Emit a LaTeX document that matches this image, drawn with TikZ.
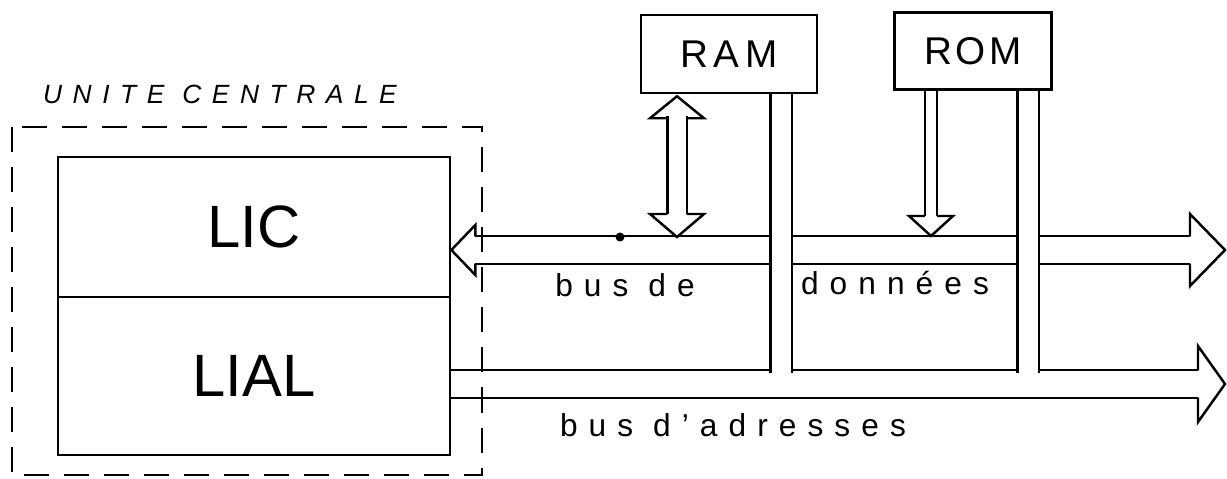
\documentclass[tikz,border=0pt]{standalone}
\usepackage{fontspec}
\setmainfont{Liberation Sans}
\usetikzlibrary{arrows.meta}
\usetikzlibrary{positioning}

\tikzset{
  unit/.style={draw, line width=0.7pt, inner sep=0pt},
  bus/.style={line width=0.7pt, double distance=0.25cm},
  link/.style={line width=0.7pt, double distance=0.19cm},
  tag/.style={font=\addfontfeatures{LetterSpace=35}\fontsize{9}{9}\selectfont},
  pics/head/.style n args={3}{code={
    \draw [line width=0.7pt, line join=miter] (-#3,#1) -- (-#3,#2) -- (0,0) -- (-#3,-#2) -- (-#3,-#1);
  }},
}

\begin{document}
\begin{tikzpicture}[x=0.01cm, y=-0.01cm]
  \useasboundingbox (0,0) rectangle (1227,479);
  \node [unit, minimum width=3.92cm, minimum height=1.40cm] (LIC) at (254,227) {\fontsize{17}{17}\selectfont LIC};
  \node [unit, minimum width=3.92cm, minimum height=1.58cm] (LIAL) at (254,376) {\fontsize{17}{17}\selectfont LIAL};
  \node [unit, minimum width=1.76cm, minimum height=0.78cm] (RAM) at (729,54) {\addfontfeatures{LetterSpace=15}\fontsize{11}{11}\selectfont RAM};
  \node [unit, minimum width=1.57cm, minimum height=0.77cm] (ROM) at (973,51) {\addfontfeatures{LetterSpace=10}\fontsize{11}{11}\selectfont ROM};
  \node [font=\itshape\addfontfeatures{LetterSpace=40}\fontsize{7.5}{7.5}\selectfont] (uc) at (220,94) {UNITE CENTRALE};

  \coordinate (dbR) at (1225,250);
  \coordinate (abR) at (1225,384);
  \coordinate (ramio) at (677,237);
  \coordinate (romin) at (931,236);
  \coordinate (ramab) at (781,373);
  \coordinate (romab) at (1028,373);

  \draw [bus, shorten <=0.24cm, shorten >=0.35cm] (LIC.east |- dbR) -- (dbR);
  \path (LIC.east |- dbR) pic [rotate=180] {head={13.7}{25}{24}};
  \path (dbR) pic {head={13.7}{36}{35}};
  \draw [bus, shorten >=0.27cm] (LIAL.east |- abR) -- (abR);
  \path (abR) pic {head={13.7}{38}{27}};
  \draw [link, double distance=0.17cm, shorten <=0.22cm, shorten >=0.23cm] (ramio |- RAM.south) -- (ramio);
  \path ([yshift=-0.02cm]ramio |- RAM.south) pic [rotate=90] {head={9.7}{27}{22}};
  \path (ramio) pic [rotate=-90] {head={9.7}{27}{23}};
  \draw [link, double distance=0.1cm, shorten >=0.2cm] (romin |- ROM.south) -- (romin);
  \path (romin) pic [rotate=-90] {head={6.2}{22}{20}};
  \draw [link] (ramab |- RAM.south) -- (ramab);
  \draw [link] (romab |- ROM.south) -- (romab);
  \fill (620,237) circle (0.045cm);

  \node [tag] (bd) at (625,285) {bus de};
  \node [tag] (dn) at (895,283) {données};
  \node [tag] (ba) at (733,425) {bus d'adresses};

  \draw [line width=0.7pt, dash pattern=on 0.25cm off 0.15cm] (12,127) rectangle (482,475);
\end{tikzpicture}
\end{document}
